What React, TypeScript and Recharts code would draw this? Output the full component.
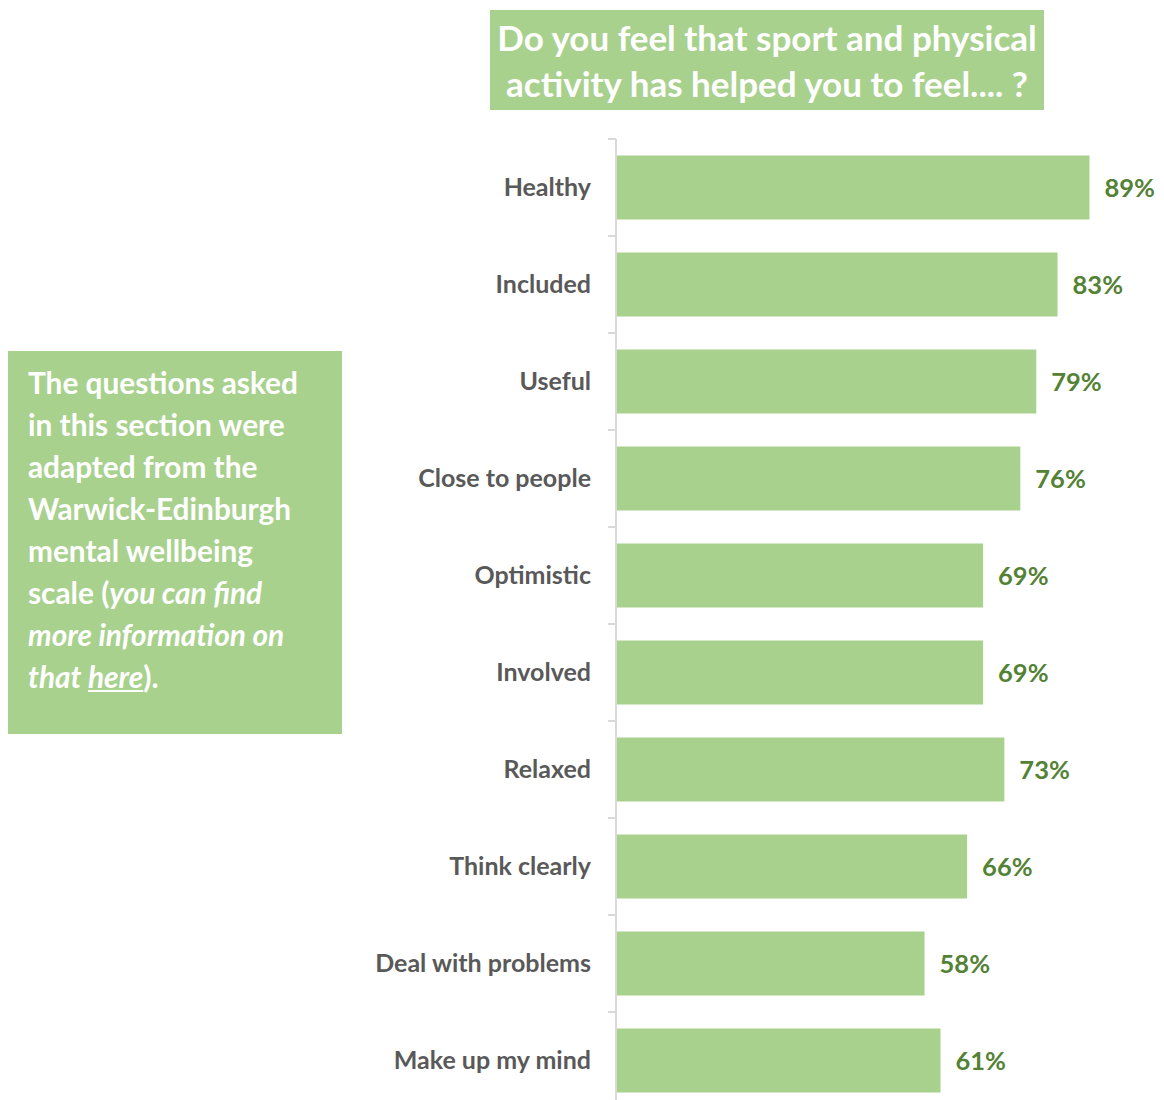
import React from 'react';
import { BarChart, Bar, XAxis, YAxis, LabelList } from 'recharts';

const categories = [
  'Healthy',
  'Included',
  'Useful',
  'Close to people',
  'Optimistic',
  'Involved',
  'Relaxed',
  'Think clearly',
  'Deal with problems',
  'Make up my mind',
];
const shares = [0.89, 0.83, 0.79, 0.76, 0.69, 0.69, 0.73, 0.66, 0.58, 0.61];

const titleLines = ['Do you feel that sport and physical', 'activity has helped you to feel.... ?'];

const data = categories.map((name, i) => ({ name, value: shares[i] }));

const FONT = 'Lato, "Open Sans", sans-serif';
const GREEN = '#a9d18e';
const AXIS = '#d9d9d9';

const CHART_H = 1110;
const MARGIN = { top: 139, right: 16, bottom: 1, left: 0 };
const BAND = (CHART_H - MARGIN.top - MARGIN.bottom) / categories.length;
const TICK_SIZE = 8;
const TICK_MARGIN = 17;

// Excel-style: label centred in the band, tick marks on the band boundaries
const CategoryTick = (props: any) => {
  const { x, y, payload, index } = props;
  const lx = x + TICK_MARGIN;
  const last = index === categories.length - 1;
  return (
    <g>
      <line x1={lx} x2={lx + TICK_SIZE} y1={y - BAND / 2} y2={y - BAND / 2} stroke={AXIS} strokeWidth={2} />
      {last && (
        <line x1={lx} x2={lx + TICK_SIZE} y1={y + BAND / 2} y2={y + BAND / 2} stroke={AXIS} strokeWidth={2} />
      )}
      <text
        x={x}
        y={y}
        dy="0.355em"
        textAnchor="end"
        fill="#595959"
        fontSize={25}
        fontWeight={700}
        fontFamily={FONT}
      >
        {payload.value}
      </text>
    </g>
  );
};

const App: React.FC = () => {
  return (
    <div style={{ position: 'absolute', left: 0, top: 0, width: 1164, height: CHART_H, background: '#fff', fontFamily: FONT }}>
      {/* title box */}
      <div
        style={{
          position: 'absolute',
          left: 490,
          top: 10,
          width: 554,
          height: 100,
          background: GREEN,
          color: '#fff',
          fontWeight: 700,
          fontSize: 35,
          lineHeight: '46px',
          textAlign: 'center',
          paddingTop: 4,
          boxSizing: 'border-box',
          whiteSpace: 'nowrap',
        }}
      >
        {titleLines.map((t) => (
          <div key={t}>{t}</div>
        ))}
      </div>

      {/* side note */}
      <div
        style={{
          position: 'absolute',
          left: 8,
          top: 351,
          width: 334,
          height: 383,
          background: GREEN,
          color: '#fff',
          fontWeight: 700,
          fontSize: 29.8,
          lineHeight: '42px',
          padding: '11px 0 0 20px',
          boxSizing: 'border-box',
          whiteSpace: 'nowrap',
        }}
      >
        The questions asked<br />
        in this section were<br />
        adapted from the<br />
        Warwick-Edinburgh<br />
        mental wellbeing<br />
        scale (<i>you can find</i><br />
        <i>more information on</i><br />
        <i>that <u>here</u></i>).
      </div>

      <div style={{ position: 'absolute', left: 0, top: 0 }}>
        <BarChart
          width={1164}
          height={CHART_H}
          data={data}
          layout="vertical"
          margin={MARGIN}
          barCategoryGap="17%"
        >
          <XAxis type="number" domain={[0, 1]} hide />
          <YAxis
            type="category"
            dataKey="name"
            width={616}
            tickSize={TICK_SIZE}
            tickMargin={TICK_MARGIN}
            axisLine={{ stroke: AXIS, strokeWidth: 2 }}
            tickLine={false}
            tick={<CategoryTick />}
            interval={0}
          />
          <Bar dataKey="value" fill={GREEN} isAnimationActive={false}>
            <LabelList
              dataKey="value"
              position="right"
              offset={15}
              formatter={(v: any) => `${Math.round(Number(v) * 100)}%`}
              style={{ fill: '#548235', fontSize: 25.5, fontWeight: 700, fontFamily: FONT }}
            />
          </Bar>
        </BarChart>
      </div>
    </div>
  );
};

export default App;
